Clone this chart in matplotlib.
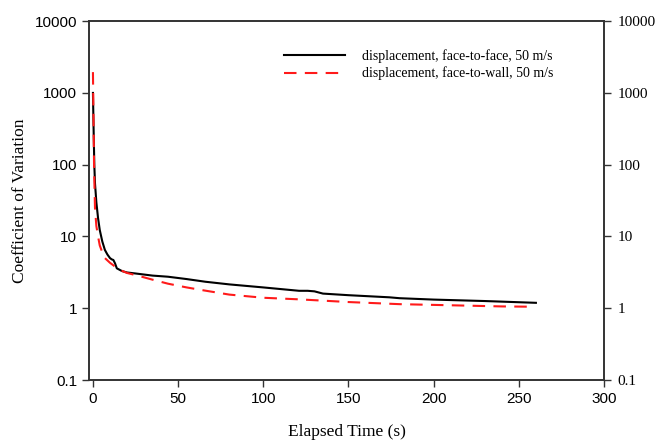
import matplotlib
matplotlib.use('Agg')
import matplotlib.pyplot as plt
from matplotlib.ticker import FixedLocator, NullLocator

# face-to-face curve (black, solid)
t_face = [0, 0.4, 0.8, 1.2, 2, 3, 4, 5.5, 7, 8.5, 10, 11, 12, 13, 14, 17, 20, 25,
          35, 44, 55, 66, 80, 100, 121, 126, 130, 135, 150, 174, 180, 200, 230, 260]
cv_face = [1000, 300, 100, 55, 30, 18, 12.3, 8.5, 6.5, 5.6, 5.0, 4.8, 4.7, 4.2, 3.6,
           3.3, 3.15, 3.05, 2.85, 2.75, 2.55, 2.34, 2.15, 1.95, 1.75, 1.75, 1.72, 1.6,
           1.52, 1.42, 1.38, 1.32, 1.26, 1.19]

# face-to-wall curve (red, dashed)
t_wall = [0, 0.3, 0.7, 1.2, 2, 3, 4, 5.5, 7, 10, 13, 16, 20, 25, 35, 44, 55, 64,
          80, 100, 121, 150, 180, 210, 240, 258]
cv_wall = [1950, 500, 80, 25, 14, 10, 7.5, 6, 5.0, 4.3, 3.8, 3.4, 3.1, 2.9, 2.5, 2.2,
           1.95, 1.79, 1.55, 1.4, 1.33, 1.22, 1.14, 1.1, 1.06, 1.05]

x_ticks = [0, 50, 100, 150, 200, 250, 300]
y_ticks = [0.1, 1, 10, 100, 1000, 10000]
y_labels = ['0.1', '1', '10', '100', '1000', '10000']

sans = 'Liberation Sans'
serif = 'Liberation Serif'

fig = plt.figure(figsize=(6.58, 4.41), dpi=100)
ax = fig.add_axes([0.1353, 0.1383, 0.9180 - 0.1353, 0.952 - 0.1383])

ax.plot(t_face, cv_face, color='black', lw=1.5, label='displacement, face-to-face, 50 m/s')
ax.plot(t_wall, cv_wall, color='#ff1a1a', lw=1.5, dashes=(6, 4),
        label='displacement, face-to-wall, 50 m/s')

ax.set_yscale('log')
ax.set_xlim(-2.3, 300)
ax.set_ylim(0.1, 10000)
ax.set_xticks(x_ticks)
ax.set_xticklabels([str(v) for v in x_ticks], fontfamily=sans, fontsize=11)
ax.yaxis.set_major_locator(FixedLocator(y_ticks))
ax.yaxis.set_minor_locator(NullLocator())
ax.set_yticklabels(y_labels, fontfamily=sans, fontsize=11)
ax.tick_params(direction='out', length=5, width=1, color='#333333')

ax2 = ax.twinx()
ax2.set_yscale('log')
ax2.set_ylim(0.1, 10000)
ax2.yaxis.set_major_locator(FixedLocator(y_ticks))
ax2.yaxis.set_minor_locator(NullLocator())
ax2.set_yticklabels(y_labels, fontfamily=serif, fontsize=11)
ax2.tick_params(direction='out', length=5, width=1, color='#333333', pad=4.5)

for a in (ax, ax2):
    for s in a.spines.values():
        s.set_color('#333333')
        s.set_linewidth(1.2)

ax.set_xlabel('Elapsed Time (s)', fontfamily=serif, fontsize=12.5, labelpad=13)
ax.set_ylabel('Coefficient of Variation', fontfamily=serif, fontsize=12.5, labelpad=5)

leg = ax.legend(loc='upper right', bbox_to_anchor=(0.925, 0.958), frameon=False,
                prop={'family': serif, 'size': 10}, handlelength=4.4,
                handletextpad=1.2, labelspacing=0.3)

fig.savefig('out.png', dpi=100)
